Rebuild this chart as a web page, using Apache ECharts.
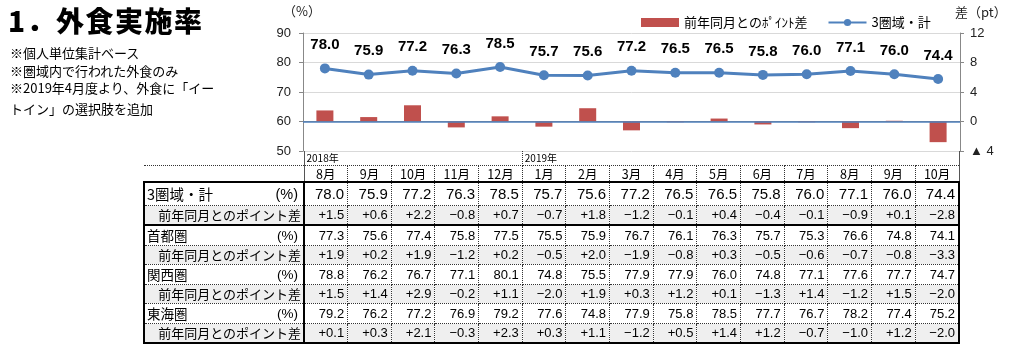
<!DOCTYPE html>
<html><head><meta charset="utf-8">
<script src="https://cdn.jsdelivr.net/npm/echarts/dist/echarts.min.js"></script>
<style>
html,body{margin:0;padding:0;background:#fff;}
#wrap{position:relative;width:1024px;height:350px;overflow:hidden;}
#chart{position:absolute;left:0;top:0;width:1024px;height:350px;}
.txt{position:absolute;font-family:"Noto Sans CJK JP";color:#000;white-space:nowrap;}
#title{left:8px;top:0px;font-size:28px;font-weight:900;letter-spacing:1.5px;}
.note{font-size:13px;left:10px;}
#tbl{position:absolute;left:143px;top:151px;border-collapse:collapse;table-layout:fixed;width:817px;font-family:"Liberation Sans","Noto Sans CJK JP";color:#000;}
#tbl td{padding:0 3px 0 0;text-align:right;font-size:13px;border:1px dotted #333;white-space:nowrap;overflow:hidden;}
#tbl td.blank{border:none;}
#tbl tr.yr td{font-size:10px;text-align:left;padding-left:2px;height:14px;line-height:14px;border-top:none;border-bottom:1px dotted #333;font-family:"Noto Sans CJK JP";}
#tbl tr.yr td.y0{border-left:1px solid #555;}
#tbl tr.yr td.ylast{border-right:1px solid #555;}
#tbl tr.mo td{text-align:center;padding:0;height:15px;line-height:15px;border-bottom:2px solid #000;font-family:"Noto Sans CJK JP";font-size:12.5px;}
#tbl tr.mo td.first{border-left:1px solid #555;}
#tbl tr.mo td.last{border-right:1px solid #555;}
#tbl tr.mo td.blank{border:none;border-bottom:none;}
#tbl tr.main td{height:19px;line-height:19px;}
#tbl tr.main.big td{height:22px;line-height:22px;font-size:15px;}
#tbl tr.diff td{height:18px;line-height:18px;background:#efefef;}
#tbl td.lab{border-left:2px solid #000;border-right:2px solid #000;text-align:left;padding-left:2px;font-family:"Noto Sans CJK JP";font-size:13.5px;}
#tbl tr.big td.lab{font-size:14.5px;}
#tbl tr.diff td.lab{text-align:right;padding-right:2px;font-size:13px;}
#tbl td.lab .u{float:right;padding-right:2px;font-family:"Liberation Sans";}
#tbl td.lastc{border-right:2px solid #000;}
#tbl tr.gend td{border-bottom:2px solid #000;}
#tbl tr.first td{border-top:2px solid #000;}
</style>
</head><body>
<div id="wrap">
<div id="chart"></div>
<div id="title" class="txt">1．外食実施率</div>
<div class="txt note" style="top:43px">※個人単位集計ベース</div>
<div class="txt note" style="top:61px">※圏域内で行われた外食のみ</div>
<div class="txt note" style="top:78px">※2019年4月度より、外食に「イー</div>
<div class="txt note" style="top:99px">トイン」の選択肢を追加</div>
</div>
<script>
// ---- data ----
const months = ['8月','9月','10月','11月','12月','1月','2月','3月','4月','5月','6月','7月','8月','9月','10月'];
const yearLabels = ['2018年','2019年'];
const yearSpans = [5,10];
const rightTicks = [-4,0,4,8,12];

const total     = [78.0,75.9,77.2,76.3,78.5,75.7,75.6,77.2,76.5,76.5,75.8,76.0,77.1,76.0,74.4];
const totalDiff = [1.5,0.6,2.2,-0.8,0.7,-0.7,1.8,-1.2,-0.1,0.4,-0.4,-0.1,-0.9,0.1,-2.8];
const shutoken     = [77.3,75.6,77.4,75.8,77.5,75.5,75.9,76.7,76.1,76.3,75.7,75.3,76.6,74.8,74.1];
const shutokenDiff = [1.9,0.2,1.9,-1.2,0.2,-0.5,2.0,-1.9,-0.8,0.3,-0.5,-0.6,-0.7,-0.8,-3.3];
const kansai     = [78.8,76.2,76.7,77.1,80.1,74.8,75.5,77.9,77.9,76.0,74.8,77.1,77.6,77.7,74.7];
const kansaiDiff = [1.5,1.4,2.9,-0.2,1.1,-2.0,1.9,0.3,1.2,0.1,-1.3,1.4,-1.2,1.5,-2.0];
const tokai     = [79.2,76.2,77.2,76.9,79.2,77.6,74.8,77.9,75.8,78.5,77.7,76.7,78.2,77.4,75.2];
const tokaiDiff = [0.1,0.3,2.1,-0.3,2.3,0.3,1.1,-1.2,0.5,1.4,1.2,-0.7,-1.0,1.2,-2.0];

const seriesLineName = '3圏域・計';
const seriesBarName = '前年同月とのﾎﾟｲﾝﾄ差';
const diffLabel = '前年同月とのポイント差';

// ---- table ----
function fmtDiff(v){ return v>0 ? '+'+v.toFixed(1) : (v<0 ? '−'+Math.abs(v).toFixed(1) : '±0.0'); }
const rows = [
  {label:'3圏域・計', values:total, diff:false, big:true},
  {label:diffLabel, values:totalDiff, diff:true, gend:true},
  {label:'首都圏', values:shutoken, diff:false},
  {label:diffLabel, values:shutokenDiff, diff:true},
  {label:'関西圏', values:kansai, diff:false},
  {label:diffLabel, values:kansaiDiff, diff:true},
  {label:'東海圏', values:tokai, diff:false},
  {label:diffLabel, values:tokaiDiff, diff:true, gend:true}
];
let h = '<table id="tbl"><colgroup><col style="width:160px">' + months.map(()=>'<col>').join('') + '</colgroup>';
h += '<tr class="yr"><td class="blank"></td>' + yearLabels.map((y,i)=>'<td colspan="'+yearSpans[i]+'" class="'+(i===0?'y0':'')+(i===yearLabels.length-1?' ylast':'')+'">'+y+'</td>').join('') + '</tr>';
h += '<tr class="mo"><td class="blank"></td>' + months.map((m,i)=>'<td class="'+(i===0?'first':'')+(i===months.length-1?' last':'')+'">'+m+'</td>').join('') + '</tr>';
rows.forEach((r,ri)=>{
  const cls = [r.diff?'diff':'main', r.big?'big':'', r.gend?'gend':'', ri===0?'first':''].join(' ');
  const lab = r.diff ? r.label : '<span class="l">'+r.label+'</span><span class="u">(%)</span>';
  h += '<tr class="'+cls+'"><td class="lab">'+lab+'</td>' +
    r.values.map((v,i)=>'<td class="'+(i===r.values.length-1?'lastc':'')+'">'+(r.diff?fmtDiff(v):v.toFixed(1))+'</td>').join('') + '</tr>';
});
h += '</table>';
document.getElementById('wrap').insertAdjacentHTML('beforeend', h);

// ---- chart ----
const chart = echarts.init(document.getElementById('chart'));
chart.setOption({
  animation:false,
  textStyle:{fontFamily:'"Liberation Sans","Noto Sans CJK JP"'},
  grid:{left:303,right:64,top:33,height:118},
  legend:{
    top:11,left:636,itemWidth:38,itemHeight:9,itemGap:20,
    textStyle:{fontSize:13,color:'#000',fontFamily:'"Noto Sans CJK JP"'},
    data:[{name:seriesBarName,icon:'rect'},{name:seriesLineName}]
  },
  xAxis:{type:'category',data:months,axisLine:{show:true,lineStyle:{color:'#888'}},axisTick:{show:false},axisLabel:{show:false}},
  yAxis:[
    {type:'value',min:50,max:90,interval:10,position:'left',
     axisLine:{show:true,lineStyle:{color:'#888'}},axisTick:{show:true,length:4,lineStyle:{color:'#888'}},
     axisLabel:{fontSize:13,color:'#222',margin:12},
     splitLine:{show:true,lineStyle:{color:'#d9d9d9'}}},
    {type:'value',min:rightTicks[0],max:rightTicks[rightTicks.length-1],interval:4,position:'right',
     axisLine:{show:true,lineStyle:{color:'#888'}},axisTick:{show:true,length:4,lineStyle:{color:'#888'}},
     axisLabel:{fontSize:13,color:'#222',margin:10,formatter:v=>v<0?'▲ '+Math.abs(v):String(v)},
     splitLine:{show:false}}
  ],
  series:[
    {name:seriesBarName,type:'bar',yAxisIndex:1,data:totalDiff,barWidth:17,
     itemStyle:{color:'#c0504d'},
     markLine:{silent:true,symbol:'none',label:{show:false},lineStyle:{color:'#4f81bd',width:1.5,type:'solid'},data:[{yAxis:0}]}},
    {name:seriesLineName,type:'line',yAxisIndex:0,data:total,symbol:'circle',symbolSize:10,z:5,
     lineStyle:{width:3,color:'#4f81bd'},itemStyle:{color:'#4f81bd'},
     label:{show:true,position:'top',distance:11,fontSize:15,fontWeight:'bold',color:'#000',formatter:p=>p.value.toFixed(1)}}
  ],
  graphic:[
    {type:'text',left:283,top:5,style:{text:'（%）',fontSize:13,fill:'#222',fontFamily:'"Noto Sans CJK JP"'}},
    {type:'text',left:955,top:6,style:{text:'差（pt）',fontSize:13,fill:'#222',fontFamily:'"Noto Sans CJK JP"'}}
  ]
});
</script>
</body></html>
